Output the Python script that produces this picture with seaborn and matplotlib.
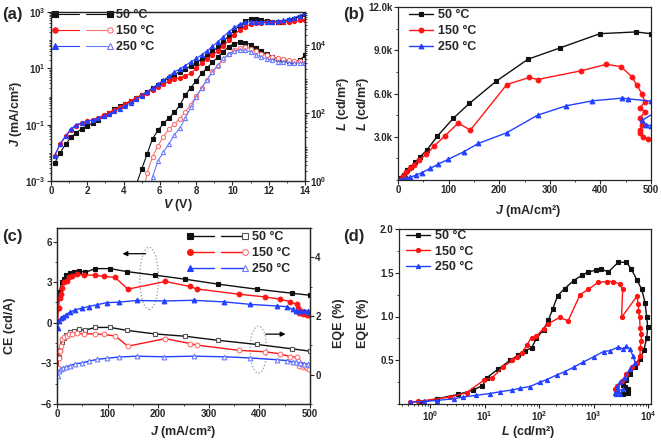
import numpy as np
import matplotlib
matplotlib.use("Agg")
import matplotlib.pyplot as plt
import seaborn as sns
from matplotlib.lines import Line2D
from matplotlib.legend_handler import HandlerBase
from matplotlib.patches import Ellipse
from matplotlib.ticker import LogLocator, NullFormatter, MultipleLocator

# ---------------- data ----------------
# (a) J-V-L : voltage grid and log10 of J (mA/cm2) / L (cd/m2)
V_a = [0.2, 0.5, 0.8, 1.1, 1.4, 1.7, 2.0, 2.3, 2.6, 2.9, 3.2, 3.5, 3.8, 4.1, 4.4, 4.7,
       5.0, 5.3, 5.6, 5.9, 6.2, 6.5, 6.8, 7.1, 7.4, 7.7, 8.0, 8.3, 8.6, 8.9, 9.2, 9.5,
       9.8, 10.1, 10.4, 10.7, 11.0, 11.3, 11.6, 11.9, 12.2, 12.5, 12.8, 13.1, 13.4, 13.7, 14.0]
logJ_50 = [-2.37, -2.0, -1.7, -1.45, -1.28, -1.15, -1.03, -0.95, -0.85, -0.7, -0.58, -0.46,
           -0.35, -0.25, -0.15, -0.05, 0.06, 0.17, 0.3, 0.42, 0.55, 0.67, 0.78, 0.88, 0.98,
           1.08, 1.2, 1.32, 1.45, 1.6, 1.75, 1.95, 2.15, 2.35, 2.52, 2.68, 2.76, 2.76, 2.72,
           2.67, 2.65, 2.65, 2.66, 2.7, 2.76, 2.84, 2.93]
logJ_150 = [-2.1, -1.7, -1.42, -1.18, -1.03, -0.95, -0.88, -0.82, -0.75, -0.66, -0.57, -0.48,
            -0.38, -0.27, -0.16, -0.05, 0.05, 0.14, 0.24, 0.34, 0.44, 0.54, 0.62, 0.67, 0.72,
            0.82, 1.0, 1.18, 1.33, 1.48, 1.62, 1.8, 2.0, 2.2, 2.36, 2.48, 2.56, 2.6, 2.62,
            2.63, 2.63, 2.64, 2.65, 2.66, 2.68, 2.7, 2.72]
logJ_250 = [-2.1, -1.68, -1.4, -1.15, -1.0, -0.93, -0.88, -0.83, -0.77, -0.7, -0.62, -0.53,
            -0.43, -0.32, -0.22, -0.1, 0.03, 0.16, 0.3, 0.44, 0.58, 0.72, 0.87, 0.98, 1.1,
            1.22, 1.35, 1.48, 1.62, 1.78, 1.95, 2.12, 2.3, 2.45, 2.56, 2.63, 2.66, 2.66, 2.65,
            2.65, 2.66, 2.68, 2.7, 2.74, 2.8, 2.87, 2.95]
V_L50 = V_a[15:]
logL_50 = [-0.1, 0.35, 0.8, 1.25, 1.49, 1.7, 1.86, 2.02, 2.23, 2.53, 2.75, 2.95, 3.17, 3.33,
           3.5, 3.65, 3.81, 3.96, 4.05, 4.09, 4.08, 4.02, 3.92, 3.82, 3.73, 3.66, 3.6, 3.56,
           3.53, 3.52, 3.56, 3.7]
V_L150 = V_a[16:]
logL_150 = [-0.6, 0.25, 0.72, 1.04, 1.31, 1.52, 1.68, 1.84, 2.04, 2.25, 2.5, 2.73, 2.98, 3.23,
            3.4, 3.58, 3.74, 3.85, 3.92, 3.95, 3.9, 3.82, 3.75, 3.7, 3.66, 3.62, 3.59, 3.56,
            3.55, 3.53, 3.48]
V_L250 = V_a[17:]
logL_250 = [-0.7, 0.13, 0.6, 0.85, 1.1, 1.36, 1.56, 1.85, 2.17, 2.47, 2.74, 2.98, 3.22, 3.41,
            3.61, 3.74, 3.82, 3.85, 3.85, 3.8, 3.72, 3.65, 3.6, 3.56, 3.52, 3.5, 3.49, 3.48,
            3.48, 3.49]

# (b) L-J
J_b50 = [1, 5, 11, 18, 26, 34, 44, 57, 78, 109, 141, 194, 257, 320, 399, 470, 500, 520]
L_b50 = [30, 115, 350, 690, 920, 1220, 1615, 2080, 3050, 4270, 5310, 6850, 8380, 9160,
         10150, 10270, 10150, 10050]
J_b150 = [1, 10, 16, 23, 31, 41, 56, 72, 93, 119, 143, 215, 259, 276, 361, 412, 441, 462,
          472, 482, 488, 478, 488, 478, 483, 478, 478, 485, 495, 505]
L_b150 = [30, 300, 580, 810, 1040, 1380, 1780, 2380, 3070, 3950, 3460, 6620, 7110, 6970,
          7570, 8025, 7860, 7165, 6590, 5965, 5430, 4970, 4740, 4280, 3815, 3470, 3260, 2960,
          2840, 2760]
J_b250 = [1, 10, 17, 24, 36, 47, 64, 80, 99, 130, 159, 215, 276, 333, 384, 443, 455, 500,
          520, 505, 482, 490, 500, 515]
L_b250 = [20, 60, 110, 185, 346, 508, 808, 1108, 1430, 1960, 2540, 3280, 4500, 5150, 5490,
          5680, 5630, 5470, 5300, 4620, 4130, 3820, 3780, 3800]

# (c) CE / EQE - J
J_c50 = [1, 3, 5, 9, 13, 18, 25, 33, 43, 56, 76, 105, 138, 193, 253, 319, 395, 465, 500]
CE_c50 = [1.1, 1.9, 2.3, 3.0, 3.25, 3.5, 3.65, 3.75, 3.82, 3.73, 4.0, 4.0, 3.78, 3.52, 3.22,
          2.85, 2.48, 2.18, 2.03]
EQE_c50 = [0.2, 0.6, 0.85, 1.1, 1.25, 1.35, 1.45, 1.5, 1.54, 1.52, 1.61, 1.61, 1.51, 1.39,
           1.31, 1.17, 1.03, 0.88, 0.8]
J_c150 = [1, 3, 5, 7, 10, 14, 20, 23, 30, 39, 53, 76, 92, 115, 140, 214, 263, 276, 359, 411,
          441, 461, 474, 476, 478, 482, 486, 490, 494, 498]
CE_c150 = [0.12, 1.1, 1.8, 2.1, 2.6, 2.98, 3.1, 3.35, 3.47, 3.6, 3.52, 3.52, 3.42, 3.35, 2.48,
           3.05, 2.68, 2.5, 2.11, 1.91, 1.74, 1.56, 1.35, 1.1, 0.75, 0.9, 0.65, 0.8, 0.6, 0.55]
EQE_c150 = [0.23, 0.57, 0.8, 0.97, 1.2, 1.28, 1.33, 1.37, 1.4, 1.41, 1.39, 1.39, 1.37, 1.32,
            0.97, 1.23, 1.06, 1.01, 0.83, 0.78, 0.71, 0.61, 0.6, 0.45, 0.3, 0.35, 0.25, 0.3,
            0.22, 0.2]
J_c250 = [1, 3, 7, 12, 18, 26, 36, 49, 63, 79, 99, 122, 158, 211, 270, 331, 382, 434, 454,
          466, 472, 480, 488, 496, 500]
CE_c250 = [-0.37, 0.12, 0.32, 0.45, 0.6, 0.8, 0.95, 1.08, 1.2, 1.33, 1.49, 1.52, 1.65, 1.61,
           1.66, 1.54, 1.36, 1.24, 1.19, 0.99, 0.87, 0.87, 0.85, 0.84, 0.82]
EQE_c250 = [-0.06, 0.11, 0.18, 0.23, 0.27, 0.31, 0.37, 0.4, 0.46, 0.52, 0.56, 0.6, 0.63, 0.61,
            0.63, 0.61, 0.57, 0.51, 0.48, 0.43, 0.42, 0.4, 0.38, 0.36, 0.34]

# (d) EQE - L  (log10 L)
logL_d50 = [-0.2, 0.13, 0.52, 0.79, 0.96, 1.04, 1.25, 1.47, 1.62, 1.74, 1.86, 1.95, 2.08,
            2.17, 2.25, 2.34, 2.47, 2.63, 2.78, 2.9, 3.05, 3.14, 3.27, 3.45, 3.6, 3.69, 3.79,
            3.88, 3.94, 3.97, 3.99, 3.97, 3.92, 3.85, 3.75, 3.66, 3.6, 3.54, 3.57, 3.63, 3.63,
            3.54]
EQE_d50 = [0.01, 0.06, 0.11, 0.16, 0.21, 0.3, 0.4, 0.5, 0.56, 0.61, 0.64, 0.75, 0.85, 0.96,
           1.09, 1.24, 1.32, 1.41, 1.47, 1.51, 1.53, 1.54, 1.51, 1.62, 1.62, 1.54, 1.42, 1.31,
           1.16, 1.0, 0.88, 0.75, 0.62, 0.51, 0.42, 0.34, 0.27, 0.22, 0.19, 0.17, 0.13, 0.11]
logL_d150 = [-0.37, -0.23, 0.37, 0.67, 0.98, 1.14, 1.33, 1.51, 1.59, 1.68, 1.77, 1.86, 1.95,
             2.08, 2.17, 2.38, 2.53, 2.75, 2.9, 3.08, 3.24, 3.36, 3.48, 3.53, 3.51, 3.79, 3.82,
             3.82, 3.84, 3.85, 3.87, 3.87, 3.85, 3.85, 3.79, 3.7, 3.6, 3.51, 3.42, 3.39]
EQE_d150 = [0.02, 0.03, 0.08, 0.13, 0.27, 0.3, 0.42, 0.5, 0.54, 0.58, 0.67, 0.76, 0.78, 0.86,
            0.92, 0.99, 0.95, 1.25, 1.31, 1.39, 1.4, 1.4, 1.37, 1.31, 0.99, 1.23, 1.14, 1.06,
            1.0, 0.87, 0.8, 0.72, 0.64, 0.55, 0.47, 0.42, 0.34, 0.26, 0.21, 0.17]
logL_d250 = [-0.37, -0.12, 0.12, 0.43, 0.61, 0.85, 1.1, 1.28, 1.5, 1.65, 1.83, 2.02, 2.14,
             2.32, 2.47, 2.63, 2.81, 3.0, 3.18, 3.3, 3.45, 3.54, 3.6, 3.66, 3.72, 3.76, 3.66,
             3.57, 3.48, 3.42, 3.39, 3.48, 3.54, 3.45, 3.4]
EQE_d250 = [0.02, 0.03, 0.04, 0.06, 0.08, 0.1, 0.12, 0.14, 0.16, 0.18, 0.2, 0.25, 0.28, 0.33,
            0.37, 0.42, 0.48, 0.54, 0.6, 0.61, 0.65, 0.63, 0.66, 0.63, 0.55, 0.47, 0.4, 0.3,
            0.25, 0.19, 0.13, 0.11, 0.17, 0.15, 0.12]

labels = ["50 °C", "150 °C", "250 °C"]

# ---------------- style ----------------
sns.set_style("ticks")
plt.rcParams["font.family"] = ["Liberation Sans", "DejaVu Sans"]
plt.rcParams["font.weight"] = "bold"
plt.rcParams["mathtext.fontset"] = "custom"
plt.rcParams["mathtext.rm"] = "Liberation Sans:bold"
plt.rcParams["mathtext.it"] = "Liberation Sans:italic:bold"
plt.rcParams["mathtext.bf"] = "Liberation Sans:bold"
plt.rcParams["xtick.direction"] = "out"
plt.rcParams["ytick.direction"] = "out"
plt.rcParams["xtick.major.size"] = 2.6
plt.rcParams["ytick.major.size"] = 2.6
plt.rcParams["xtick.minor.size"] = 1.4
plt.rcParams["ytick.minor.size"] = 1.4
plt.rcParams["axes.linewidth"] = 0.9

BLACK, RED, BLUE = "#111111", "#ff1414", "#2340ff"
PINK, LBLUE, GREY = "#ff7070", "#6a7cff", "#555555"

W, H = 661, 442
fig = plt.figure(figsize=(W / 100, H / 100), dpi=100)


def px(x, y):
    return x / W, 1 - y / H


def box(l, t, r, b):
    return [l / W, 1 - b / H, (r - l) / W, (b - t) / H]


def curve(ax, x, y, color, marker, ms=3.2, mfc=None, mec=None, lw=1.0):
    sns.lineplot(x=x, y=y, ax=ax, color=color, marker=marker, markersize=ms,
                 markerfacecolor=mfc if mfc else color, markeredgecolor=mec if mec else color,
                 markeredgewidth=0.8, linewidth=lw, sort=False, estimator=None, legend=False)
    return ax.lines[-1]


class SplitHandler(HandlerBase):
    def create_artists(self, legend, orig_handle, xdescent, ydescent, width, height,
                       fontsize, trans):
        first, second = orig_handle
        x0 = -xdescent
        x1 = x0 + width
        y = -ydescent + height / 2
        xm = (x0 + x1) / 2
        gap = 0.14 * width
        out = []
        for h, xs, idx in ((first, [x0, xm - gap / 2], [0]), (second, [xm + gap / 2, x1], [1])):
            ln = Line2D(xs, [y, y], color=h.get_color(), linewidth=h.get_linewidth(),
                        marker=h.get_marker(), markersize=h.get_markersize() + 0.8,
                        markerfacecolor=h.get_markerfacecolor(),
                        markeredgecolor=h.get_markeredgecolor(), markeredgewidth=0.8,
                        markevery=idx)
            ln.set_transform(trans)
            out.append(ln)
        return out


leg_kw = dict(frameon=False, borderpad=0, borderaxespad=0, loc="upper left",
              bbox_transform=fig.transFigure, prop={"weight": "bold", "size": 9})
tick_fs = 7


def ticks(ax):
    ax.tick_params(labelsize=tick_fs, pad=1.2)
    for t in ax.get_xticklabels() + ax.get_yticklabels():
        t.set_fontweight("bold")


# ---------------- (a) ----------------
ax_a = fig.add_axes(box(51, 12, 305, 181))
ja = [curve(ax_a, V_a, 10.0 ** np.array(lj), c, m, ms=3.0, lw=0.8)
      for lj, c, m in ((logJ_50, BLACK, "s"), (logJ_150, RED, "o"), (logJ_250, BLUE, "^"))]
ax_a.set_yscale("log")
ax_a.set_xlim(0, 14)
ax_a.set_ylim(1e-3, 1e3)
ax_a.set_xticks([0, 2, 4, 6, 8, 10, 12, 14])
ax_a.xaxis.set_minor_locator(MultipleLocator(1))
ax_a.set_yticks([1e-3, 1e-1, 1e1, 1e3])
ax_a.yaxis.set_minor_locator(LogLocator(base=10, subs=np.arange(1, 10), numticks=60))
ax_a.yaxis.set_minor_formatter(NullFormatter())
ticks(ax_a)

ax_a2 = ax_a.twinx()
la = [curve(ax_a2, vx, 10.0 ** np.array(ll), c, m, ms=3.0, mfc=f, mec=e, lw=0.8)
      for vx, ll, c, m, f, e in ((V_L50, logL_50, BLACK, "s", BLACK, BLACK),
                                 (V_L150, logL_150, PINK, "o", "white", PINK),
                                 (V_L250, logL_250, LBLUE, "^", "white", LBLUE))]
ax_a2.set_yscale("log")
ax_a2.set_ylim(1, 10 ** 4.98)
ax_a2.set_yticks([1, 1e2, 1e4])
ax_a2.yaxis.set_minor_locator(LogLocator(base=10, subs=np.arange(1, 10), numticks=60))
ax_a2.yaxis.set_minor_formatter(NullFormatter())
ticks(ax_a2)
ax_a2.set_ylabel("")
ax_a.set_xlabel("")
ax_a.set_ylabel("")
ax_a.legend(handles=list(zip(ja, la)), labels=labels, handler_map={tuple: SplitHandler()},
            bbox_to_anchor=px(55, 9), handlelength=4.4, handletextpad=0.5,
            labelspacing=0.32, **leg_kw)

# ---------------- (b) ----------------
ax_b = fig.add_axes(box(398, 7, 651, 180))
hb = [curve(ax_b, jx, ly, c, m, ms=3.4)
      for jx, ly, c, m in ((J_b50, L_b50, BLACK, "s"), (J_b150, L_b150, RED, "o"),
                           (J_b250, L_b250, BLUE, "^"))]
ax_b.set_xlim(0, 500)
ax_b.set_ylim(0, 12000)
ax_b.set_xticks([0, 100, 200, 300, 400, 500])
ax_b.set_yticks([3000, 6000, 9000, 12000], ["3.0k", "6.0k", "9.0k", "12.0k"])
ax_b.xaxis.set_minor_locator(MultipleLocator(50))
ax_b.yaxis.set_minor_locator(MultipleLocator(1500))
ticks(ax_b)
ax_b.set_xlabel("")
ax_b.set_ylabel("")
ax_b.legend(handles=hb, labels=labels, numpoints=1, bbox_to_anchor=px(409, 9.5),
            handlelength=1.9, handletextpad=0.45, labelspacing=0.3, **leg_kw)

# ---------------- (c) ----------------
ax_c = fig.add_axes(box(57, 228, 310, 404))
ce = [curve(ax_c, jx, cy, c, m, ms=3.4)
      for jx, cy, c, m in ((J_c50, CE_c50, BLACK, "s"), (J_c150, CE_c150, RED, "o"),
                           (J_c250, CE_c250, BLUE, "^"))]
ax_c.set_xlim(0, 500)
ax_c.set_ylim(-6, 7)
ax_c.set_xticks([0, 100, 200, 300, 400, 500])
ax_c.set_yticks([-6, -3, 0, 3, 6])
ax_c.xaxis.set_minor_locator(MultipleLocator(50))
ax_c.yaxis.set_minor_locator(MultipleLocator(1.5))
ticks(ax_c)
ax_c2 = ax_c.twinx()
eq = [curve(ax_c2, jx, ey, c, m, ms=3.4, mfc="white", mec=e)
      for jx, ey, c, m, e in ((J_c50, EQE_c50, BLACK, "s", GREY),
                              (J_c150, EQE_c150, RED, "o", PINK),
                              (J_c250, EQE_c250, BLUE, "^", LBLUE))]
ax_c2.set_ylim(-1, 5)
ax_c2.set_yticks([0, 2, 4])
ax_c2.yaxis.set_minor_locator(MultipleLocator(1))
ticks(ax_c2)
for a in (ax_c, ax_c2):
    a.set_xlabel("")
    a.set_ylabel("")
ax_c.add_patch(Ellipse((182, 3.28), 37, 4.6, fill=False, ls=":", ec="#8a97a8", lw=0.9))
ax_c.add_patch(Ellipse((398, -1.98), 33, 3.47, fill=False, ls=":", ec="#8a97a8", lw=0.9))
ax_c.annotate("", xy=(124, 5.1), xytext=(181, 5.1),
              arrowprops=dict(arrowstyle="-|>", color="k", lw=0.9, mutation_scale=7))
ax_c.annotate("", xy=(457, -0.84), xytext=(407, -0.84),
              arrowprops=dict(arrowstyle="-|>", color="k", lw=0.9, mutation_scale=7))
ax_c.legend(handles=list(zip(ce, eq)), labels=labels, handler_map={tuple: SplitHandler()},
            bbox_to_anchor=px(190, 231), handlelength=4.4, handletextpad=0.6,
            labelspacing=0.32, **leg_kw)

# ---------------- (d) ----------------
ax_d = fig.add_axes(box(399, 229, 651, 404))
hd = [curve(ax_d, 10.0 ** np.array(lx), ey, c, m, ms=3.0)
      for lx, ey, c, m in ((logL_d50, EQE_d50, BLACK, "s"), (logL_d150, EQE_d150, RED, "o"),
                           (logL_d250, EQE_d250, BLUE, "^"))]
ax_d.set_xscale("log")
ax_d.set_xlim(10 ** -0.57, 10 ** 4.05)
ax_d.set_ylim(0, 2)
ax_d.set_xticks([1, 10, 100, 1000, 10000])
ax_d.xaxis.set_minor_locator(LogLocator(base=10, subs=np.arange(2, 10), numticks=60))
ax_d.xaxis.set_minor_formatter(NullFormatter())
ax_d.set_yticks([0.5, 1.0, 1.5, 2.0], ["0.5", "1.0", "1.5", "2.0"])
ax_d.yaxis.set_minor_locator(MultipleLocator(0.25))
ticks(ax_d)
ax_d.set_xlabel("")
ax_d.set_ylabel("")
ax_d.legend(handles=hd, labels=labels, numpoints=1, bbox_to_anchor=px(406, 230),
            handlelength=1.9, handletextpad=0.45, labelspacing=0.3, **leg_kw)

# ---------------- labels ----------------
lab = dict(fontsize=9, fontweight="bold", ha="center", va="center")
fig.text(*px(16, 114), "$J$ (mA/cm²)", rotation=90, **lab)
fig.text(*px(178, 205), "$V$ (V)", **lab)
fig.text(*px(528, 211), "$J$ (mA/cm²)", **lab)
fig.text(*px(343, 104), "$L$ (cd/m²)", rotation=90, **lab)
fig.text(*px(363, 104), "$L$ (cd/m²)", rotation=90, **lab)
fig.text(*px(10, 326), "CE (cd/A)", rotation=90, **lab)
fig.text(*px(183, 432), "$J$ (mA/cm²)", **lab)
fig.text(*px(528, 432), "$L$ (cd/m²)", **lab)
fig.text(*px(339, 323), "EQE (%)", rotation=90, **lab)
fig.text(*px(363, 323), "EQE (%)", rotation=90, **lab)

pan = dict(fontsize=12, fontweight="bold", ha="center", va="center")
fig.text(*px(12, 15), "(a)", **pan)
fig.text(*px(354, 15), "(b)", **pan)
fig.text(*px(12, 236), "(c)", **pan)
fig.text(*px(354, 236), "(d)", **pan)

fig.savefig("out.png", dpi=100)
